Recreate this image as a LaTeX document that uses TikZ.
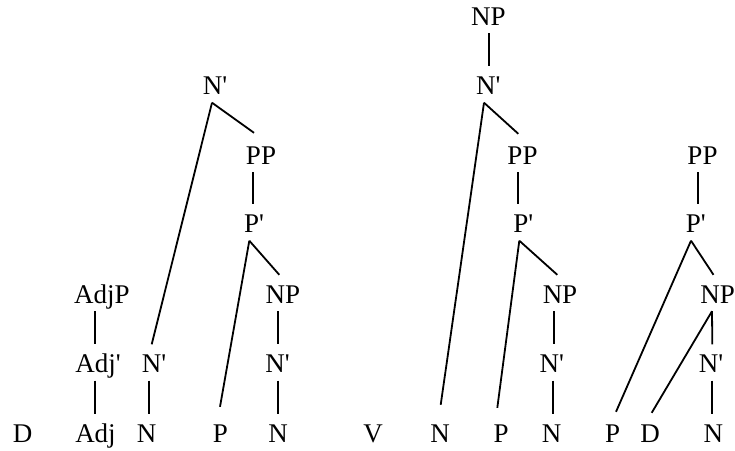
\documentclass[tikz,border=0pt]{standalone}
\usepackage{fontspec}
\setmainfont{Liberation Serif}
\newcommand{\pr}{\textquotesingle}
\tikzset{
  lbl/.style={anchor=base, inner xsep=0pt, inner ysep=8pt, text height=20pt, text depth=0pt,
              font=\fontsize{27}{31}\selectfont},
  edge/.style={line width=1.8pt}
}
\begin{document}
\begin{tikzpicture}[x=1pt,y=-1pt]
\useasboundingbox (0,0) rectangle (735,450);
% ---------- tree 1 ----------
\node[lbl] (t1d)    at (22.5,442)   {D};
\node[lbl] (t1adj)  at (95.5,442)   {Adj};
\node[lbl] (t1adjb) at (98,372.5)   {Adj\pr};
\node[lbl] (t1adjp) at (102,303)    {AdjP};
\node[lbl] (t1n)    at (146.7,442)  {N};
\node[lbl] (t1nb)   at (154,372.5)  {N\pr};
\node[lbl] (t1ntop) at (215,94.5)   {N\pr};
\node[lbl] (t1pp)   at (261,164)    {PP};
\node[lbl] (t1pb)   at (254,232.5)  {P\pr};
\node[lbl] (t1p)    at (220.5,442)  {P};
\node[lbl] (t1np)   at (283,303)    {NP};
\node[lbl] (t1nb2)  at (277.5,372.5){N\pr};
\node[lbl] (t1n2)   at (278,442)    {N};
\draw[edge] ([xshift=-7pt]t1adjp.south) -- ([xshift=-3pt]t1adjb.north);
\draw[edge] ([xshift=-3pt]t1adjb.south) -- ([xshift=-0.5pt]t1adj.north);
\draw[edge] ([xshift=-3pt]t1ntop.south) -- ([xshift=-2.3pt]t1nb.north);
\draw[edge] ([xshift=-3pt]t1ntop.south) -- ([xshift=-7pt,yshift=3pt]t1pp.north);
\draw[edge] ([xshift=-5pt]t1nb.south) -- ([xshift=2.3pt]t1n.north);
\draw[edge] ([xshift=-7.7pt]t1pp.south) -- ([xshift=-0.7pt]t1pb.north);
\draw[edge] ([xshift=-4.7pt]t1pb.south) -- ([xshift=-0.5pt,yshift=7pt]t1p.north);
\draw[edge] ([xshift=-4.7pt]t1pb.south) -- ([xshift=-3.7pt]t1np.north);
\draw[edge] ([xshift=-4.7pt]t1np.south) -- ([xshift=0.8pt]t1nb2.north);
\draw[edge] ([xshift=0.8pt]t1nb2.south) -- ([xshift=0.3pt]t1n2.north);
% ---------- tree 2 ----------
\node[lbl] (t2v)    at (373,442)    {V};
\node[lbl] (t2n)    at (440,442)    {N};
\node[lbl] (t2p)    at (501,442)    {P};
\node[lbl] (t2n2)   at (551.7,442)  {N};
\node[lbl] (t2nb2)  at (551.7,372.5){N\pr};
\node[lbl] (t2np2)  at (560,303)    {NP};
\node[lbl] (t2pb)   at (523.3,232.5){P\pr};
\node[lbl] (t2pp)   at (522.5,164)  {PP};
\node[lbl] (t2nb)   at (488.3,94.5) {N\pr};
\node[lbl] (t2np)   at (488.3,25)   {NP};
\draw[edge] ([xshift=1pt]t2np.south) -- ([xshift=1pt]t2nb.north);
\draw[edge] ([xshift=-4.3pt]t2nb.south) -- ([xshift=0.7pt,yshift=9pt]t2n.north);
\draw[edge] ([xshift=-4.3pt]t2nb.south) -- ([xshift=-4.2pt,yshift=2pt]t2pp.north);
\draw[edge] ([xshift=-4.2pt]t2pp.south) -- ([xshift=-5pt]t2pb.north);
\draw[edge] ([xshift=-4pt]t2pb.south) -- ([xshift=-3.7pt,yshift=6pt]t2p.north);
\draw[edge] ([xshift=-4pt]t2pb.south) -- ([xshift=-2.7pt]t2np2.north);
\draw[edge] ([xshift=-5.7pt]t2np2.south) -- ([xshift=2.6pt]t2nb2.north);
\draw[edge] ([xshift=1.6pt]t2nb2.south) -- ([xshift=1.6pt]t2n2.north);
% ---------- tree 3 ----------
\node[lbl] (t3pp)   at (702.5,164)  {PP};
\node[lbl] (t3pb)   at (695.8,232.5){P\pr};
\node[lbl] (t3np)   at (717.6,303)  {NP};
\node[lbl] (t3nb)   at (711,372.5)  {N\pr};
\node[lbl] (t3n)    at (713.3,442)  {N};
\node[lbl] (t3p)    at (612.5,442)  {P};
\node[lbl] (t3d)    at (650,442)    {D};
\draw[edge] ([xshift=-4.8pt]t3pp.south) -- ([xshift=1.9pt]t3pb.north);
\draw[edge] ([xshift=-4.8pt]t3pb.south) -- ([xshift=3.5pt,yshift=2pt]t3p.north);
\draw[edge] ([xshift=-4.8pt]t3pb.south) -- ([xshift=-4.1pt]t3np.north);
\draw[edge] ([xshift=-5.6pt]t3np.south) -- ([xshift=1.7pt,yshift=1pt]t3d.north);
\draw[edge] ([xshift=-5.6pt]t3np.south) -- ([xshift=1.3pt]t3nb.north);
\draw[edge] ([xshift=1.3pt]t3nb.south) -- ([xshift=-1pt]t3n.north);
\end{tikzpicture}
\end{document}
